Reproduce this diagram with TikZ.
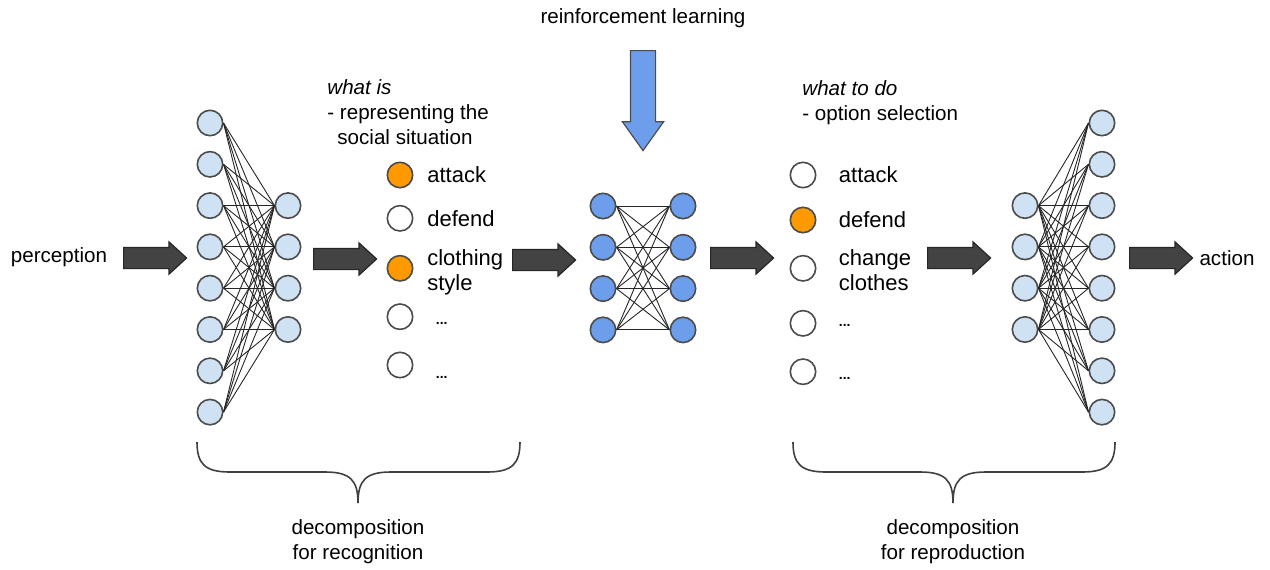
\documentclass[tikz,border=0pt]{standalone}
\usepackage{fontspec}
\setmainfont{Liberation Sans}
\usetikzlibrary{positioning,shapes.arrows}

\definecolor{cellblue}{HTML}{CFE2F3}
\definecolor{rlblue}{HTML}{6D9EEB}
\definecolor{pickorange}{HTML}{FF9900}
\definecolor{arrowgray}{HTML}{434343}

\tikzset{
  unit/.style={circle, draw=black!70, line width=0.8pt, minimum size=12.7pt, inner sep=0pt},
  wire/.style={black!85, line width=0.45pt},
  label/.style={inner sep=0pt, font=\fontsize{10.3}{12.5}\selectfont},
  option/.style={inner sep=0pt, align=left, font=\fontsize{11}{12.2}\selectfont},
  more/.style={inner sep=0pt, font=\fontsize{7}{8}\selectfont\bfseries},
  flow/.style={single arrow, draw=black!85, fill=arrowgray, line width=0.6pt,
    minimum height=31.5pt, inner xsep=0pt, inner ysep=5pt, anchor=tail,
    single arrow head extend=2.75pt, single arrow tip angle=85},
  bracepath/.style={black!75, line width=0.8pt}
}

\begin{document}
\begin{tikzpicture}[x=0.5pt, y=-0.5pt]
\useasboundingbox (0,0) rectangle (1270,569);

% recognition network
\foreach \i in {1,...,8}
  \node[unit, fill=cellblue] (li\i) at (210, {123+41.3*(\i-1)}) {};
\foreach \j in {1,...,4}
  \node[unit, fill=cellblue] (lh\j) at (288, {205.6+41.3*(\j-1)}) {};
\foreach \i in {1,...,8}
  \foreach \j in {1,...,4}
    \draw[wire] (li\i.east) -- (lh\j.west);

% reinforcement learning network
\foreach \j in {1,...,4} {
  \node[unit, fill=rlblue] (ma\j) at (603, {206+41.3*(\j-1)}) {};
  \node[unit, fill=rlblue] (mb\j) at (683, {206+41.3*(\j-1)}) {};
}
\foreach \i in {1,...,4}
  \foreach \j in {1,...,4}
    \draw[wire] (ma\i.east) -- (mb\j.west);

% reproduction network
\foreach \j in {1,...,4}
  \node[unit, fill=cellblue] (rh\j) at (1025, {205.6+41.3*(\j-1)}) {};
\foreach \i in {1,...,8}
  \node[unit, fill=cellblue] (ro\i) at (1102, {123+41.3*(\i-1)}) {};
\foreach \j in {1,...,4}
  \foreach \i in {1,...,8}
    \draw[wire] (rh\j.east) -- (ro\i.west);

% what is
\foreach \n/\y/\c in {1/175/pickorange, 2/218.3/white, 3/268.3/pickorange, 4/316.7/white, 5/365/white}
  \node[unit, fill=\c] (ls\n) at (400,\y) {};
\node[option, right=6.7pt of ls1] (lt1) {attack};
\node[option, right=6.7pt of ls2] (lt2) {defend};
\node[option, right=6.7pt of ls3, yshift=-2pt] (lt3) {clothing\\style};
\node[more, right=11pt of ls4, yshift=-3.3pt] (lt4) {...};
\node[more, right=11pt of ls5, yshift=-6.3pt] (lt5) {...};
\node[label, align=left, anchor=north west] (whatis) at (327,79)
  {\textit{what is}\\- representing the\\\hspace{5pt}social situation};

% what to do
\foreach \n/\y/\c in {1/175/white, 2/220/pickorange, 3/268.3/white, 4/323.3/white, 5/371.7/white}
  \node[unit, fill=\c] (rs\n) at (803,\y) {};
\node[option, right=11pt of rs1] (rt1) {attack};
\node[option, right=11pt of rs2] (rt2) {defend};
\node[option, right=11pt of rs3, yshift=-1pt] (rt3) {change\\clothes};
\node[more, right=11pt of rs4, yshift=-1pt] (rt4) {...};
\node[more, right=11pt of rs5, yshift=-3.3pt] (rt5) {...};
\node[label, align=left, anchor=north west] (whattodo) at (802,80)
  {\textit{what to do}\\- option selection};

% flow
\node[label] (perception) at (59,257) {perception};
\node[label] (action) at (1227,258) {action};
\foreach \x/\y [count=\k] in {123/258, 313/259, 512/260, 710/258, 927/258, 1129/258}
  \node[flow] (flow\k) at (\x,\y) {};

\node[label] (rl) at (643,18) {reinforcement learning};
\node[single arrow, draw=black!70, fill=rlblue, line width=0.6pt, rotate=-90, anchor=tail,
  minimum height=50pt, inner xsep=0pt, inner ysep=6pt,
  single arrow head extend=4pt, single arrow tip angle=71] (rlarrow) at (643,50) {};

% braces
\foreach \l/\m/\r in {197/358/520, 793/953/1115}
  \draw[bracepath] (\l,442) .. controls (\l,464) and ({\l+8},472) .. ({\l+33},472)
    -- ({\m-33},472) .. controls ({\m-8},472) and (\m,480) .. (\m,503)
    .. controls (\m,480) and ({\m+8},472) .. ({\m+33},472)
    -- ({\r-33},472) .. controls ({\r-8},472) and (\r,464) .. (\r,442);
\node[label, align=center] (recog) at (358,542) {decomposition\\for recognition};
\node[label, align=center] (repro) at (953,542) {decomposition\\for reproduction};
\end{tikzpicture}
\end{document}
